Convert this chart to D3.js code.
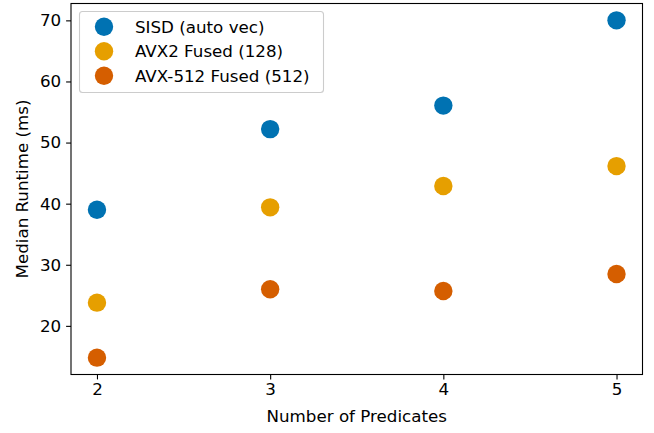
<!DOCTYPE html>
<html>
<head>
<meta charset="utf-8">
<script src="https://cdn.jsdelivr.net/npm/d3@7"></script>
<style>
body { margin: 0; background: #fff; }
svg { display: block; font-family: "DejaVu Sans", sans-serif; }
</style>
</head>
<body>
<svg id="chart" width="654" height="433"></svg>
<script>
const predicates = [2, 3, 4, 5];
const seriesNames = ["SISD (auto vec)", "AVX2 Fused (128)", "AVX-512 Fused (512)"];
const sisd = [39.0, 52.2, 56.05, 70.0];
const avx2 = [23.8, 39.4, 42.9, 46.15];
const avx512 = [14.8, 26.0, 25.7, 28.5];
const colors = ["#0072b2", "#e69f00", "#d55e00"];
const xTicks = [2, 3, 4, 5];
const yTicks = [20, 30, 40, 50, 60, 70];

const series = [sisd, avx2, avx512];
const svg = d3.select("#chart");
const L = 71, R = 642.5, T = 3.5, B = 374.5;
const FS = "16.7px";

const x = d3.scaleLinear().domain([1.85, 5.15]).range([L, R]);
const allVals = series.flat();
const ymin = d3.min(allVals), ymax = d3.max(allVals), pad = (ymax - ymin) * 0.05;
const y = d3.scaleLinear().domain([ymin - pad, ymax + pad]).range([B, T]);

// points
series.forEach((vals, si) => {
  svg.append("g").selectAll("circle").data(vals).join("circle")
    .attr("cx", (d, i) => x(predicates[i]))
    .attr("cy", d => y(d))
    .attr("r", 9.2)
    .attr("fill", colors[si]);
});

// axes
const xAxis = d3.axisBottom(x).tickValues(xTicks).tickFormat(d3.format("d")).tickSizeOuter(0).tickSize(4.9).tickPadding(3.6);
const yAxis = d3.axisLeft(y).tickValues(yTicks).tickFormat(d3.format("d")).tickSizeOuter(0).tickSize(4.9).tickPadding(5);
const gx = svg.append("g").attr("transform", `translate(0,${B})`).call(xAxis);
const gy = svg.append("g").attr("transform", `translate(${L},0)`).call(yAxis);
[gx, gy].forEach(g => {
  g.select(".domain").remove();
  g.selectAll("line").attr("stroke", "#000").attr("stroke-width", 1.1);
  g.selectAll("text").attr("font-size", FS).attr("fill", "#000").attr("font-family", "DejaVu Sans");
});

// frame
svg.append("rect").attr("x", L).attr("y", T).attr("width", R - L).attr("height", B - T)
  .attr("fill", "none").attr("stroke", "#000").attr("stroke-width", 1.1);

// axis labels
svg.append("text").attr("x", (L + R) / 2).attr("y", 421.5).attr("text-anchor", "middle")
  .attr("font-size", FS).attr("fill", "#000").text("Number of Predicates");
svg.append("text").attr("transform", `translate(27.5,${(T + B) / 2}) rotate(-90)`).attr("text-anchor", "middle")
  .attr("font-size", FS).attr("fill", "#000").text("Median Runtime (ms)");

// legend
const lg = svg.append("g");
lg.append("rect").attr("x", 79.5).attr("y", 11.5).attr("width", 244).attr("height", 81).attr("rx", 3)
  .attr("fill", "#fff").attr("fill-opacity", 0.8).attr("stroke", "#cccccc").attr("stroke-width", 1.1);
seriesNames.forEach((name, i) => {
  const cy = 26.7 + i * 24.5;
  lg.append("circle").attr("cx", 104).attr("cy", cy).attr("r", 9.2).attr("fill", colors[i]);
  lg.append("text").attr("x", 135).attr("y", cy).attr("dy", "0.36em").attr("font-size", FS)
    .attr("fill", "#000").text(name);
});
</script>
</body>
</html>
